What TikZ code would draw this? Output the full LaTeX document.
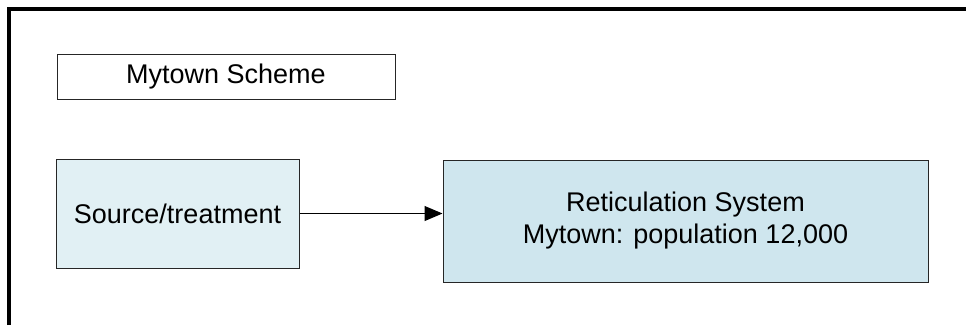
\documentclass[tikz,border=0pt]{standalone}
\usepackage{fontspec}
\setmainfont{Liberation Sans}
\usetikzlibrary{arrows.meta}
\definecolor{srcfill}{HTML}{E1F0F4}
\definecolor{retfill}{HTML}{CFE6EE}
\begin{document}
\begin{tikzpicture}[x=1pt,y=-1pt,
  box/.style={draw=black!85,line width=1pt,rectangle,inner sep=0pt,align=center,
    font=\fontsize{27}{32}\selectfont},
  flow/.style={line width=1pt,-{Triangle[length=18pt,width=15pt]}}]
  \useasboundingbox (0,0) rectangle (966,325);
  % outer frame, only its top and left edges fall inside the page
  \draw[line width=4pt] (9,325) -- (9,9) -- (966,9);
  % title
  \node[box,fill=white,minimum width=338pt,minimum height=45pt] (title) at (226,76.5) {Mytown Scheme};
  % source and reticulation blocks
  \node[box,fill=srcfill,minimum width=243pt,minimum height=109pt] (src) at (177.5,213.5) {Source/treatment};
  \node[box,fill=retfill,minimum width=485pt,minimum height=122pt] (ret) at (685.5,221) {Reticulation System\\Mytown: population 12,000};
  \draw[flow] (src.east) -- (src.east -| ret.west);
\end{tikzpicture}
\end{document}
